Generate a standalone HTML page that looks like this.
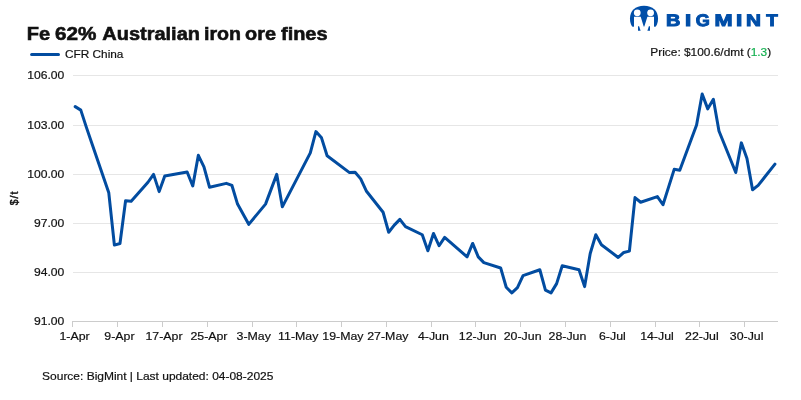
<!DOCTYPE html>
<html><head><meta charset="utf-8"><title>Fe 62% Australian iron ore fines</title>
<style>
html,body{margin:0;padding:0;background:#fff;}
body{width:801px;height:400px;overflow:hidden;}
svg{display:block;font-family:"Liberation Sans",Arial,Helvetica,sans-serif;}
.s{font-size:11.8px;fill:#111111;stroke:#111111;stroke-width:0.2px;}
</style></head><body>
<svg width="801" height="400" viewBox="0 0 801 400">
<rect width="801" height="400" fill="#ffffff"/>
<g id="logo">
<path d="M629.95 18.7 C629.95 10.64 635.29 5.699999999999999 644 5.699999999999999 C652.71 5.699999999999999 658.05 10.64 658.05 18.7 C658.05 26.76 652.71 31.7 644 31.7 C635.29 31.7 629.95 26.76 629.95 18.7 Z" fill="#004ea8"/><rect x="628.95" y="26.7" width="30.1" height="6.00" fill="#fff"/><circle cx="637.25" cy="12.8" r="3.4" fill="#fff"/><circle cx="650.6" cy="12.8" r="3.4" fill="#fff"/><path d="M634 16.8 H640.7 L644 27.4 L647.4 16.8 H654 V27 H634 Z" fill="#fff"/><path d="M638 26.2 L639.1 26.2 L640.6 30.8 L638 30.8 Z" fill="#004ea8"/><path d="M650 26.2 L648.9 26.2 L647.4 30.8 L650 30.8 Z" fill="#004ea8"/><text y="26.0" font-size="16.9" font-weight="bold" fill="#004ea8" stroke="#004ea8" stroke-width="1.0" stroke-linejoin="miter" style="text-rendering:geometricPrecision"><tspan x="666.12" textLength="14.37" lengthAdjust="spacingAndGlyphs">B</tspan><tspan x="684.91" textLength="6.22" lengthAdjust="spacingAndGlyphs">I</tspan><tspan x="695.73" textLength="14.05" lengthAdjust="spacingAndGlyphs">G</tspan><tspan x="714.54" textLength="18.11" lengthAdjust="spacingAndGlyphs">M</tspan><tspan x="736.00" textLength="6.29" lengthAdjust="spacingAndGlyphs">I</tspan><tspan x="745.98" textLength="14.98" lengthAdjust="spacingAndGlyphs">N</tspan><tspan x="766.38" textLength="11.55" lengthAdjust="spacingAndGlyphs">T</tspan></text>
</g>
<text y="40" font-size="19.2" font-weight="bold" fill="#111111" stroke="#111111" stroke-width="0.6"><tspan x="26.86" textLength="23.37" lengthAdjust="spacingAndGlyphs">Fe</tspan> <tspan x="55.06" textLength="41.41" lengthAdjust="spacingAndGlyphs">62%</tspan> <tspan x="102.30" textLength="97.68" lengthAdjust="spacingAndGlyphs">Australian</tspan> <tspan x="203.98" textLength="37.04" lengthAdjust="spacingAndGlyphs">iron</tspan> <tspan x="245.08" textLength="30.89" lengthAdjust="spacingAndGlyphs">ore</tspan> <tspan x="281.00" textLength="46.57" lengthAdjust="spacingAndGlyphs">fines</tspan></text>
<line x1="31.6" y1="54.4" x2="58.5" y2="54.4" stroke="#024ca0" stroke-width="3" stroke-linecap="round"/>
<g class="s"><text transform="translate(65.00,58) scale(1.0017,1)">CFR China</text>
<text transform="translate(650.34,56) scale(1.0084,1)">Price: $100.6/dmt (<tspan fill="#14b050" stroke="#14b050">1.3</tspan>)</text></g>
<rect x="73" y="75" width="705" height="1" fill="#e6e6e6"/><rect x="73" y="125" width="705" height="1" fill="#e6e6e6"/><rect x="73" y="174" width="705" height="1" fill="#e6e6e6"/><rect x="73" y="223" width="705" height="1" fill="#e6e6e6"/><rect x="73" y="272" width="705" height="1" fill="#e6e6e6"/>
<rect x="73" y="321" width="705" height="1" fill="#cccccc"/>
<rect x="72" y="321" width="1" height="6" fill="#cccccc"/><rect x="117" y="321" width="1" height="6" fill="#cccccc"/><rect x="162" y="321" width="1" height="6" fill="#cccccc"/><rect x="207" y="321" width="1" height="6" fill="#cccccc"/><rect x="252" y="321" width="1" height="6" fill="#cccccc"/><rect x="296" y="321" width="1" height="6" fill="#cccccc"/><rect x="341" y="321" width="1" height="6" fill="#cccccc"/><rect x="386" y="321" width="1" height="6" fill="#cccccc"/><rect x="431" y="321" width="1" height="6" fill="#cccccc"/><rect x="475" y="321" width="1" height="6" fill="#cccccc"/><rect x="520" y="321" width="1" height="6" fill="#cccccc"/><rect x="565" y="321" width="1" height="6" fill="#cccccc"/><rect x="610" y="321" width="1" height="6" fill="#cccccc"/><rect x="655" y="321" width="1" height="6" fill="#cccccc"/><rect x="699" y="321" width="1" height="6" fill="#cccccc"/><rect x="744" y="321" width="1" height="6" fill="#cccccc"/>
<g class="s"><text transform="translate(27.21,79) scale(1.0292,1)">106.00</text>
<text transform="translate(27.21,129) scale(1.0292,1)">103.00</text>
<text transform="translate(27.21,178) scale(1.0292,1)">100.00</text>
<text transform="translate(33.90,227) scale(1.0292,1)">97.00</text>
<text transform="translate(33.90,276) scale(1.0292,1)">94.00</text>
<text transform="translate(33.90,325) scale(1.0292,1)">91.00</text></g>
<g class="s"><text transform="translate(59.42,340) scale(1.0475,1)">1-Apr</text>
<text transform="translate(104.33,340) scale(1.0475,1)">9-Apr</text>
<text transform="translate(145.49,340) scale(1.0475,1)">17-Apr</text>
<text transform="translate(190.40,340) scale(1.0475,1)">25-Apr</text>
<text transform="translate(236.53,340) scale(1.0475,1)">3-May</text>
<text transform="translate(278.09,340) scale(1.0475,1)">11-May</text>
<text transform="translate(322.33,340) scale(1.0475,1)">19-May</text>
<text transform="translate(367.24,340) scale(1.0475,1)">27-May</text>
<text transform="translate(417.95,340) scale(1.0475,1)">4-Jun</text>
<text transform="translate(458.84,340) scale(1.0475,1)">12-Jun</text>
<text transform="translate(503.75,340) scale(1.0475,1)">20-Jun</text>
<text transform="translate(548.54,340) scale(1.0475,1)">28-Jun</text>
<text transform="translate(598.98,340) scale(1.0475,1)">6-Jul</text>
<text transform="translate(640.13,340) scale(1.0475,1)">14-Jul</text>
<text transform="translate(685.04,340) scale(1.0475,1)">22-Jul</text>
<text transform="translate(729.83,340) scale(1.0475,1)">30-Jul</text>
</g>
<text transform="translate(18.4,197.9) rotate(-90)" font-size="10.4" fill="#111111" stroke="#111111" stroke-width="0.45" text-anchor="middle" letter-spacing="1.0">$/t</text>
<path d="M75.20 106.65 L80.80 110.10 L86.40 127.35 L91.99 143.75 L108.79 192.85 L114.39 245.10 L119.98 243.45 L125.58 200.75 L131.18 201.35 L147.97 182.25 L153.57 174.35 L159.17 191.60 L164.77 175.95 L187.16 172.05 L192.76 185.95 L198.35 155.35 L203.95 166.85 L209.55 187.25 L226.34 183.35 L231.94 185.45 L237.54 204.10 L248.74 224.35 L265.53 204.10 L276.73 174.35 L282.32 206.85 L310.31 152.85 L315.91 131.60 L321.51 137.85 L327.11 155.75 L349.50 172.60 L355.10 172.25 L360.70 178.85 L366.29 190.95 L383.09 212.25 L388.69 232.25 L394.28 225.10 L399.88 219.35 L405.48 226.60 L422.27 234.75 L427.87 250.75 L433.47 233.45 L439.07 245.75 L444.67 237.45 L467.06 256.85 L472.66 243.45 L478.25 256.85 L483.85 262.65 L500.65 267.95 L506.24 287.25 L511.84 292.85 L517.44 287.60 L523.04 275.60 L539.83 269.75 L545.43 290.10 L551.03 292.85 L556.63 283.65 L562.23 265.75 L579.02 269.75 L584.62 286.60 L590.22 253.45 L595.81 234.75 L601.41 244.75 L618.21 257.45 L623.80 252.45 L629.40 251.15 L635.00 197.60 L640.60 202.25 L657.39 196.60 L662.99 204.75 L674.19 169.35 L679.78 170.15 L696.58 125.10 L702.18 94.10 L707.77 108.85 L713.37 99.35 L718.97 130.95 L735.76 172.55 L741.36 142.85 L746.96 158.45 L752.56 189.75 L758.16 185.35 L774.95 164.10" fill="none" stroke="#024ca0" stroke-width="3" stroke-linejoin="round" stroke-linecap="round"/>
<g class="s"><text transform="translate(42.09,380) scale(1.0154,1)">Source: BigMint | Last updated: 04-08-2025</text></g>
</svg>
</body></html>
